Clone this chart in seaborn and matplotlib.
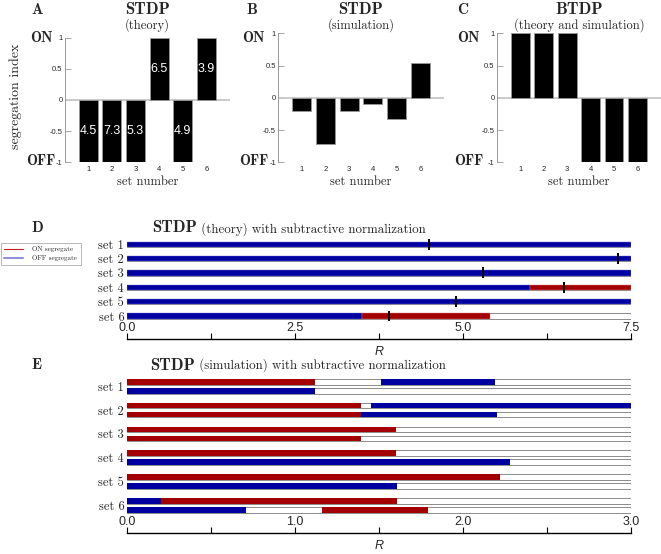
import numpy as np
import pandas as pd
import seaborn as sns
import matplotlib.pyplot as plt
from matplotlib.lines import Line2D

sns.set_style("white")
plt.rcParams['font.family'] = ['Liberation Sans', 'DejaVu Sans']

W, H = 661, 554

# ---- data ----
sets = [1, 2, 3, 4, 5, 6]
set_names = ['set 1', 'set 2', 'set 3', 'set 4', 'set 5', 'set 6']

# panel A: STDP theory, segregation index and R at which it segregates
theory_index = [-1, -1, -1, 1, -1, 1]
theory_R = [4.5, 7.3, 5.3, 6.5, 4.9, 3.9]
# panel B: STDP simulation
sim_index = [-0.2, -0.71, -0.2, -0.1, -0.33, 0.54]
# panel C: BTDP
btdp_index = [1, 1, 1, -1, -1, -1]

# panel D: (start, end) of OFF / ON segregated ranges of R
d_off = [(0, 7.5), (0, 7.5), (0, 7.5), (0, 6.0), (0, 7.5), (0, 3.5)]
d_on = [None, None, None, (6.0, 7.5), None, (3.5, 5.4)]
d_Rmax = 7.5

# panel E: two runs per set, segments (start, end, kind)
e_top = [[(0, 1.12, 'ON'), (1.51, 2.19, 'OFF')],
         [(0, 1.39, 'ON'), (1.45, 3.0, 'OFF')],
         [(0, 1.60, 'ON')],
         [(0, 1.60, 'ON')],
         [(0, 2.22, 'ON')],
         [(0, 0.20, 'OFF'), (0.20, 1.61, 'ON')]]
e_bottom = [[(0, 1.12, 'OFF')],
            [(0, 1.39, 'ON'), (1.39, 2.20, 'OFF')],
            [(0, 1.39, 'ON')],
            [(0, 2.28, 'OFF')],
            [(0, 1.61, 'OFF')],
            [(0, 0.71, 'OFF'), (1.16, 1.79, 'ON')]]
e_Rmax = 3.0

RED = '#a30000'
BLUE = '#0000a0'
colors = {'ON': RED, 'OFF': BLUE}


def fx(x):
    return x / W


def fy(y):
    return 1 - y / H


def box(l, t, r, b):
    return [fx(l), fy(b), (r - l) / W, (b - t) / H]


fig = plt.figure(figsize=(6.61, 5.54), dpi=100)

# ---- panels A, B, C ----
top_panels = [
    ('A', 'STDP', '(theory)', theory_index, box(64.5, 37.7, 230, 162.3), 53, 55),
    ('B', 'STDP', '(simulation)', sim_index, box(278, 33.3, 444, 162.3), 265, 268),
    ('C', 'BTDP', '(theory and simulation)', btdp_index, box(496.7, 33.3, 661, 162.3), 480, 483),
]
letter_x = {'A': 37, 'B': 252, 'C': 463}

for letter, name, sub, vals, rect, on_x, off_x in top_panels:
    ax = fig.add_axes(rect)
    df = pd.DataFrame({'set': sets, 'index': vals})
    sns.barplot(data=df, x='set', y='index', color='black', saturation=1,
                edgecolor='0.6', linewidth=0.6, width=0.8, ax=ax, zorder=2)
    ax.axhline(0, color='0.78', lw=1.3, zorder=1)
    ax.set_xlim(-1, 6)
    ax.set_ylim(-1, 1)
    ax.set_yticks([-1, -0.5, 0, 0.5, 1])
    ax.set_yticklabels(['-1', '-0.5', '0', '0.5', '1'])
    for s in ['top', 'right', 'bottom']:
        ax.spines[s].set_visible(False)
    ax.spines['left'].set_color('0.6')
    ax.spines['left'].set_linewidth(0.7)
    ax.tick_params(axis='y', direction='in', length=4, width=0.6, color='0.6',
                   labelsize=5.5, pad=1.5, left=True)
    ax.tick_params(axis='x', length=0, labelsize=5.5, pad=3)
    ax.set_xlabel('')
    ax.set_ylabel('')
    cx = (rect[0] + rect[2] / 2)
    fig.text(cx, fy(10), name, family='cmb10', fontsize=12, ha='center', va='center')
    fig.text(cx, fy(25.5), sub, family='cmr10', fontsize=9, ha='center', va='center')
    fig.text(cx, fy(181.5), 'set number', family='cmr10', fontsize=9, ha='center', va='center')
    fig.text(fx(letter_x[letter]), fy(10), letter, family='cmb10', fontsize=11,
             ha='center', va='center')
    fig.text(fx(on_x), fy(37.5), 'ON', family='cmb10', fontsize=10.5,
             ha='right', va='center')
    fig.text(fx(off_x), fy(161.5), 'OFF', family='cmb10', fontsize=10.5,
             ha='right', va='center')
    if letter == 'A':
        for i, (v, r) in enumerate(zip(vals, theory_R)):
            ax.text(i, v / 2, f'{r:.1f}', color='white', fontsize=9,
                    ha='center', va='center', zorder=3)

fig.text(fx(16), fy(96), 'segregation index', family='cmr10', fontsize=10,
         rotation=90, ha='center', va='center')


def r_axis(ax, rmax, major, labelled):
    ax.set_xlim(0, rmax)
    for s in ['top', 'right', 'left']:
        ax.spines[s].set_visible(False)
    ax.spines['bottom'].set_color('black')
    ax.spines['bottom'].set_linewidth(1.0)
    ticks = np.arange(0, rmax + 1e-9, major)
    ax.set_xticks(ticks)
    ax.set_xticklabels([f'{t:.1f}' if np.isclose(t % labelled, 0) or np.isclose(t % labelled, labelled)
                        else '' for t in ticks])
    ax.tick_params(axis='x', direction='in', length=4, width=0.8, color='black',
                   labelsize=9, pad=-12, bottom=True)
    ax.tick_params(axis='y', length=0, pad=2)
    for lab in ax.get_yticklabels():
        lab.set_family('cmr10')
        lab.set_fontsize(9)
    ax.annotate('R', xy=(0.5, 0), xycoords='axes fraction', xytext=(0, -13),
                textcoords='offset pixels', ha='center', va='center',
                fontsize=9, style='italic')


# ---- panel D ----
axd = fig.add_axes(box(127, 236, 631, 339))
yd = np.arange(len(set_names))
hd = 0.36
axd.barh(yd, d_Rmax, left=0, height=hd, color='white', edgecolor='0.55', linewidth=0.7)
off_left = [s for s, e in d_off]
off_w = [e - s for s, e in d_off]
axd.barh(yd, off_w, left=off_left, height=hd, color=BLUE, edgecolor='#6f6fd8', linewidth=0.3)
for i, seg in enumerate(d_on):
    if seg is not None:
        axd.barh(i, seg[1] - seg[0], left=seg[0], height=hd, color=RED,
                 edgecolor='#e08080', linewidth=0.3)
axd.vlines(theory_R, yd - 0.38, yd + 0.38, color='black', lw=1.4, zorder=4)
axd.set_ylim(6.6, -0.57)
axd.set_yticks(yd)
axd.set_yticklabels(set_names)
r_axis(axd, d_Rmax, 1.25, 2.5)

fig.text(fx(37), fy(228), 'D', family='cmb10', fontsize=11, ha='center', va='center')
t = fig.text(fx(152), fy(232.5), 'STDP', family='cmb10', fontsize=12, ha='left', va='baseline')
axd.annotate(' (theory) with subtractive normalization', xy=(1, 0), xycoords=t,
             ha='left', va='bottom', family='cmr10', fontsize=9.3, annotation_clip=False)

handles = [Line2D([], [], color='#c02020', lw=0.8),
           Line2D([], [], color='#9090dc', lw=1.5)]
leg = fig.legend(handles, ['ON segregate', 'OFF segregate'],
                 loc='upper left', bbox_to_anchor=(fx(1), fy(242.5)),
                 prop={'family': 'cmr10', 'size': 5}, frameon=True, fancybox=False,
                 edgecolor='0.6', handlelength=2.6, borderpad=0.5, labelspacing=0.5,
                 handletextpad=1.4, borderaxespad=0)
leg.get_frame().set_linewidth(0.6)

# ---- panel E ----
axe = fig.add_axes(box(127, 372, 631, 532.7))
he = 0.24
off = 0.19
for i in range(len(set_names)):
    for yrow, segs in ((i - off, e_top[i]), (i + off, e_bottom[i])):
        axe.barh(yrow, e_Rmax, left=0, height=he, color='white', edgecolor='0.55', linewidth=0.7)
        for s, e, kind in segs:
            axe.barh(yrow, e - s, left=s, height=he, color=colors[kind],
                     edgecolor='none')
axe.set_ylim(6.15, -0.6)
axe.set_yticks(np.arange(len(set_names)))
axe.set_yticklabels(set_names)
r_axis(axe, e_Rmax, 0.5, 1.0)

fig.text(fx(36), fy(365), 'E', family='cmb10', fontsize=11, ha='center', va='center')
t2 = fig.text(fx(150), fy(369.5), 'STDP', family='cmb10', fontsize=12, ha='left', va='baseline')
axe.annotate(' (simulation) with subtractive normalization', xy=(1, 0), xycoords=t2,
             ha='left', va='bottom', family='cmr10', fontsize=9.3, annotation_clip=False)

fig.savefig('out.png', dpi=100)
